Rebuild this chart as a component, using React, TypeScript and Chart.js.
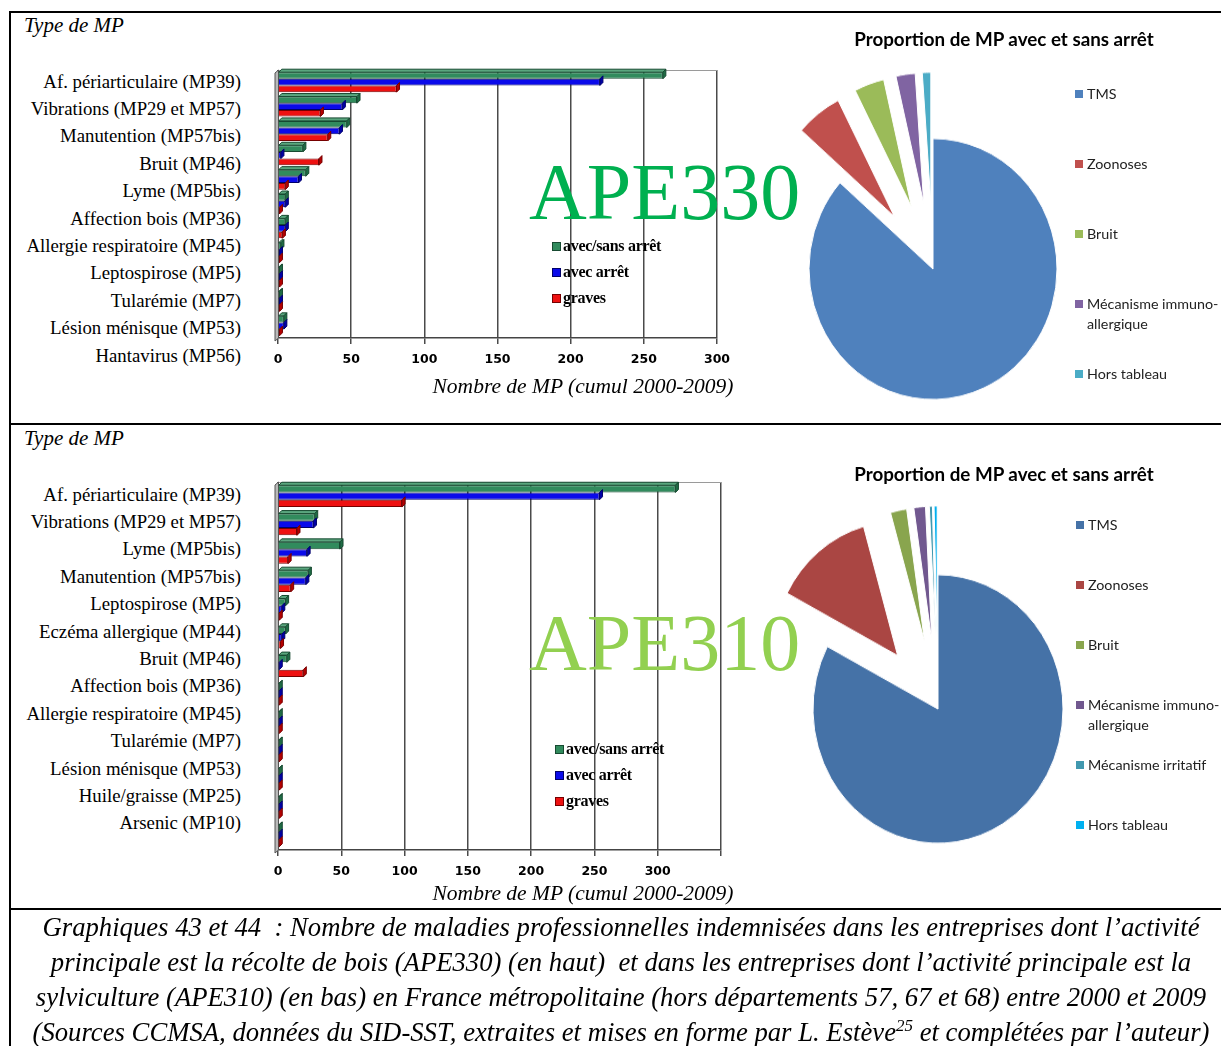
import React, { useEffect, useRef } from 'react';
import { Chart, registerables } from 'chart.js';

Chart.register(...registerables);

// ---------------- data ----------------
const seriesNames = ['avec/sans arrêt', 'avec arrêt', 'graves'];

// APE330 (récolte de bois)
const categories330 = [
  'Af. périarticulaire (MP39)',
  'Vibrations (MP29 et MP57)',
  'Manutention (MP57bis)',
  'Bruit (MP46)',
  'Lyme (MP5bis)',
  'Affection bois (MP36)',
  'Allergie respiratoire (MP45)',
  'Leptospirose (MP5)',
  'Tularémie (MP7)',
  'Lésion ménisque (MP53)',
  'Hantavirus (MP56)',
];
const withOrWithout330 = [263, 54, 47, 17, 19, 5, 5, 2, 1, 1, 4];
const withStop330 = [220, 44, 42, 2, 14, 5, 5, 1, 1, 1, 4];
const severe330 = [81, 29, 34, 28, 5, 1, 3, 1, 1, 1, 1];
const xTicks330 = [0, 50, 100, 150, 200, 250, 300];
const xTickLabels330 = ['0', '50', '100', '150', '200', '250', '300'];

// APE310 (sylviculture)
const categories310 = [
  'Af. périarticulaire (MP39)',
  'Vibrations (MP29 et MP57)',
  'Lyme (MP5bis)',
  'Manutention (MP57bis)',
  'Leptospirose (MP5)',
  'Eczéma allergique (MP44)',
  'Bruit (MP46)',
  'Affection bois (MP36)',
  'Allergie respiratoire (MP45)',
  'Tularémie (MP7)',
  'Lésion ménisque (MP53)',
  'Huile/graisse (MP25)',
  'Arsenic (MP10)',
];
const withOrWithout310 = [314, 29, 49, 24, 6, 6, 7, 1, 1, 1, 1, 1, 1];
const withStop310 = [254, 28, 23, 22, 3, 3, 1, 1, 1, 1, 1, 1, 1];
const severe310 = [98, 15, 8, 10, 1, 2, 20, 1, 1, 1, 1, 1, 1];
const xTicks310 = [0, 50, 100, 150, 200, 250, 300, 350];
const xTickLabels310 = ['0', '50', '100', '150', '200', '250', '300', ''];

// Pies (proportion de MP avec et sans arrêt, %)
const pieLabels330 = ['TMS', 'Zoonoses', 'Bruit', 'Mécanisme immuno-allergique', 'Hors tableau'];
const pieValues330 = [86.5, 6.0, 3.9, 2.5, 1.1];
const pieLabels310 = ['TMS', 'Zoonoses', 'Bruit', 'Mécanisme immuno-allergique', 'Mécanisme irritatif', 'Hors tableau'];
const pieValues310 = [82.7, 12.9, 2.1, 1.5, 0.4, 0.4];

// ---------------- styles ----------------
const SERIF = '"Liberation Serif", "Times New Roman", serif';
const SANS = 'Lato, "Noto Sans", sans-serif';
const barFill = ['#318b5d', '#0a0aea', '#ee1111'];
const barEdge = ['#174a31', '#00006a', '#760000'];
const barCap = ['#1f6c45', '#0000a6', '#b40000'];
const barTop = ['#5aa67e', '#4a4aff', '#ff5a5a'];
const pieColors330 = ['#4f81bd', '#c0504d', '#9bbb59', '#8064a2', '#4bacc6'];
const pieColors310 = ['#4572a7', '#aa4643', '#89a54e', '#71588f', '#4198af', '#00b0f0'];
const explode330 = [0, 63, 63, 63, 63];
const explode310 = [0, 64, 64, 64, 64, 64];

// ---------------- plugins ----------------
const bar3d = {
  id: 'bar3d',
  beforeDatasetsDraw(chart: any) {
    const { ctx, chartArea: a } = chart;
    ctx.save();
    ctx.strokeStyle = '#9a9a9a';
    ctx.lineWidth = 1;
    ctx.beginPath();
    ctx.moveTo(a.left, a.top + 0.5);
    ctx.lineTo(a.right, a.top + 0.5);
    ctx.stroke();
    ctx.fillStyle = '#b9b9b9';
    ctx.strokeStyle = '#555';
    ctx.beginPath();
    ctx.moveTo(a.left - 3, a.top + 3);
    ctx.lineTo(a.left + 0.5, a.top);
    ctx.lineTo(a.left + 0.5, a.bottom);
    ctx.lineTo(a.left - 3, a.bottom + 3);
    ctx.closePath();
    ctx.fill();
    ctx.stroke();
    ctx.restore();
  },
  afterDatasetsDraw(chart: any) {
    const { ctx } = chart;
    const d = 3;
    ctx.save();
    ctx.lineWidth = 1;
    chart.data.datasets.forEach((_ds: any, di: number) => {
      const meta = chart.getDatasetMeta(di);
      meta.data.forEach((el: any) => {
        const { x, y, base, height } = el;
        const t = y - height / 2;
        const b = y + height / 2;
        ctx.strokeStyle = barEdge[di];
        if (di === 0) {
          ctx.fillStyle = barTop[di];
          ctx.beginPath();
          ctx.moveTo(base, t);
          ctx.lineTo(base + d, t - d);
          ctx.lineTo(x + d, t - d);
          ctx.lineTo(x, t);
          ctx.closePath();
          ctx.fill();
          ctx.stroke();
        }
        ctx.fillStyle = barCap[di];
        ctx.beginPath();
        ctx.moveTo(x, t);
        ctx.lineTo(x + d, t - d);
        ctx.lineTo(x + d, b - d);
        ctx.lineTo(x, b);
        ctx.closePath();
        ctx.fill();
        ctx.stroke();
      });
    });
    ctx.restore();
  },
};

const makeExplode = (dist: number[]) => ({
  id: 'explode',
  afterDatasetsUpdate(chart: any) {
    chart.getDatasetMeta(0).data.forEach((el: any, i: number) => {
      const e = dist[i] || 0;
      if (!e) return;
      const mid = (el.startAngle + el.endAngle) / 2;
      el.x += Math.cos(mid) * e;
      el.y += Math.sin(mid) * e;
    });
  },
});

// ---------------- components ----------------
type BarProps = {
  categories: string[];
  series: number[][];
  max: number;
  ticks: number[];
  tickLabels: string[];
  left: number;
  top: number;
  width: number;
  height: number;
  pad: { left: number; right: number; top: number; bottom: number };
  catPct: number;
};

function BarChart(p: BarProps) {
  const ref = useRef<HTMLCanvasElement>(null);
  useEffect(() => {
    const chart = new Chart(ref.current as HTMLCanvasElement, {
      type: 'bar',
      data: {
        labels: p.categories,
        datasets: p.series.map((d, i) => ({
          label: seriesNames[i],
          data: d,
          backgroundColor: barFill[i],
          borderColor: barEdge[i],
          borderWidth: 1,
          categoryPercentage: p.catPct,
          barPercentage: 1,
        })),
      },
      options: {
        indexAxis: 'y',
        responsive: false,
        animation: false,
        events: [],
        layout: { padding: p.pad },
        plugins: { legend: { display: false }, tooltip: { enabled: false } },
        scales: {
          x: {
            min: 0,
            max: p.max,
            afterBuildTicks: (s: any) => {
              s.ticks = p.ticks.map((v) => ({ value: v }));
            },
            ticks: {
              autoSkip: false,
              maxRotation: 0,
              padding: 8,
              color: '#000',
              font: { family: '"DejaVu Sans", "Liberation Sans", sans-serif', weight: 'bold', size: 12.5 },
              callback: (v: any) => {
                const k = p.ticks.indexOf(Number(v));
                return k >= 0 ? p.tickLabels[k] : '';
              },
            },
            grid: { color: '#4a4a4a', lineWidth: 1.5, tickLength: 6, tickColor: '#4a4a4a' },
            border: { color: '#444', width: 1.5 },
          },
          y: { display: false },
        },
      } as any,
      plugins: [bar3d],
    });
    return () => chart.destroy();
  }, []);
  return (
    <canvas
      ref={ref}
      width={p.width}
      height={p.height}
      style={{ position: 'absolute', left: p.left, top: p.top, width: p.width, height: p.height }}
    />
  );
}

type PieProps = {
  labels: string[];
  values: number[];
  colors: string[];
  explode: number[];
  cx: number;
  cy: number;
  r: number;
  stretchY: number;
};

function PieChart(p: PieProps) {
  const ref = useRef<HTMLCanvasElement>(null);
  const size = 2 * (p.r + 85);
  useEffect(() => {
    const chart = new Chart(ref.current as HTMLCanvasElement, {
      type: 'pie',
      data: {
        labels: p.labels,
        datasets: [
          {
            data: p.values,
            backgroundColor: p.colors,
            borderColor: '#ffffff',
            borderWidth: 1,
          },
        ],
      },
      options: {
        responsive: false,
        animation: false,
        events: [],
        radius: p.r,
        layout: { padding: 0 },
        plugins: { legend: { display: false }, tooltip: { enabled: false } },
      } as any,
      plugins: [makeExplode(p.explode)],
    });
    return () => chart.destroy();
  }, []);
  return (
    <div
      style={{
        position: 'absolute',
        left: p.cx - size / 2,
        top: p.cy - size / 2,
        width: size,
        height: size,
        transform: `scaleY(${p.stretchY})`,
        transformOrigin: '50% 50%',
      }}
    >
      <canvas ref={ref} width={size} height={size} style={{ display: 'block', width: size, height: size }} />
    </div>
  );
}

function CategoryLabels({ items, top, step }: { items: string[]; top: number; step: number }) {
  return (
    <div
      style={{
        position: 'absolute',
        left: 0,
        top,
        width: 241,
        textAlign: 'right',
        fontFamily: SERIF,
        fontSize: 18.8,
        lineHeight: `${step}px`,
        whiteSpace: 'nowrap',
        color: '#000',
        zIndex: 3,
      }}
    >
      {items.map((c) => (
        <div key={c}>{c}</div>
      ))}
    </div>
  );
}

function BarLegend({ left, top }: { left: number; top: number }) {
  return (
    <div style={{ position: 'absolute', left, top, zIndex: 4 }}>
      {seriesNames.map((n, i) => (
        <div key={n} style={{ display: 'flex', alignItems: 'center', height: 26 }}>
          <span
            style={{
              display: 'inline-block',
              width: 7,
              height: 7,
              background: barFill[i],
              border: `1px solid ${barEdge[i]}`,
              marginRight: 2,
            }}
          />
          <span
            style={{
              fontFamily: SERIF,
              fontWeight: 'bold',
              fontSize: 16,
              letterSpacing: -0.3,
              color: '#000',
              whiteSpace: 'nowrap',
            }}
          >
            {n}
          </span>
        </div>
      ))}
    </div>
  );
}

function PieLegend({ labels, colors, left, top, step }: { labels: string[]; colors: string[]; left: number; top: number; step: number }) {
  return (
    <div style={{ position: 'absolute', left, top, zIndex: 4 }}>
      {labels.map((n, i) => (
        <div key={n} style={{ position: 'absolute', left: 0, top: i * step, width: 150 }}>
          <span
            style={{
              position: 'absolute',
              left: 0,
              top: 6,
              width: 8,
              height: 8,
              background: colors[i],
            }}
          />
          <div
            style={{
              position: 'absolute',
              left: 12,
              top: 0,
              width: 140,
              fontFamily: SANS,
              fontSize: 14.3,
              lineHeight: '20px',
              color: '#222',
            }}
          >
            {n}
          </div>
        </div>
      ))}
    </div>
  );
}

const italicSerif = (size: number): React.CSSProperties => ({
  fontFamily: SERIF,
  fontStyle: 'italic',
  fontSize: size,
  color: '#000',
  whiteSpace: 'nowrap',
});

const pieTitleStyle: React.CSSProperties = {
  position: 'absolute',
  left: 804,
  width: 400,
  textAlign: 'center',
  fontFamily: SANS,
  fontWeight: 'bold',
  fontSize: 18.8,
  lineHeight: '24px',
  color: '#000',
  zIndex: 4,
  whiteSpace: 'nowrap',
};

const bigTextStyle = (color: string, top: number): React.CSSProperties => ({
  position: 'absolute',
  left: 529,
  top,
  fontFamily: SERIF,
  fontSize: 80,
  lineHeight: '80px',
  color,
  zIndex: 5,
  whiteSpace: 'nowrap',
});

export default function App() {
  return (
    <div
      style={{
        position: 'absolute',
        left: 0,
        top: 0,
        width: 1221,
        height: 1046,
        overflow: 'hidden',
        background: '#fff',
      }}
    >
      {/* table borders */}
      <div style={{ position: 'absolute', left: 9, top: 11, width: 2, height: 1040, background: '#000' }} />
      <div style={{ position: 'absolute', left: 9, top: 11, width: 1212, height: 2, background: '#000' }} />
      <div style={{ position: 'absolute', left: 9, top: 423, width: 1212, height: 2, background: '#000' }} />
      <div style={{ position: 'absolute', left: 9, top: 908, width: 1212, height: 2, background: '#000' }} />

      {/* ---------- APE330 ---------- */}
      <div style={{ position: 'absolute', left: 24, top: 12, lineHeight: '26px', ...italicSerif(21) }}>Type de MP</div>
      <CategoryLabels items={categories330} top={67.5} step={27.4} />
      <BarChart
        categories={categories330}
        series={[withOrWithout330, withStop330, severe330]}
        max={300}
        ticks={xTicks330}
        tickLabels={xTickLabels330}
        left={262}
        top={58}
        width={480}
        height={327}
        pad={{ left: 16, right: 25, top: 12, bottom: 10 }}
        catPct={0.82}
      />
      <div style={{ position: 'absolute', left: 383, width: 400, top: 373, textAlign: 'center', lineHeight: '26px', ...italicSerif(21.5) }}>
        Nombre de MP (cumul 2000-2009)
      </div>
      <BarLegend left={552} top={233} />
      <div style={bigTextStyle('#00b050', 152)}>APE330</div>
      <PieChart
        labels={pieLabels330}
        values={pieValues330}
        colors={pieColors330}
        explode={explode330}
        cx={933}
        cy={269}
        r={124}
        stretchY={1.052}
      />
      <div style={{ ...pieTitleStyle, top: 27 }}>Proportion de MP avec et sans arrêt</div>
      <PieLegend labels={pieLabels330} colors={pieColors330} left={1075} top={84} step={70} />

      {/* ---------- APE310 ---------- */}
      <div style={{ position: 'absolute', left: 24, top: 425, lineHeight: '26px', ...italicSerif(21) }}>Type de MP</div>
      <CategoryLabels items={categories310} top={480.5} step={27.4} />
      <BarChart
        categories={categories310}
        series={[withOrWithout310, withStop310, severe310]}
        max={350}
        ticks={xTicks310}
        tickLabels={xTickLabels310}
        left={262}
        top={470}
        width={484}
        height={427}
        pad={{ left: 16, right: 25, top: 12, bottom: 10 }}
        catPct={0.77}
      />
      <div style={{ position: 'absolute', left: 383, width: 400, top: 880, textAlign: 'center', lineHeight: '26px', ...italicSerif(21.5) }}>
        Nombre de MP (cumul 2000-2009)
      </div>
      <BarLegend left={555} top={736} />
      <div style={bigTextStyle('#92d050', 603)}>APE310</div>
      <PieChart
        labels={pieLabels310}
        values={pieValues310}
        colors={pieColors310}
        explode={explode310}
        cx={938}
        cy={709}
        r={125}
        stretchY={1.074}
      />
      <div style={{ ...pieTitleStyle, top: 462 }}>Proportion de MP avec et sans arrêt</div>
      <PieLegend labels={pieLabels310} colors={pieColors310} left={1076} top={515} step={60} />

      {/* ---------- caption ---------- */}
      <div
        style={{
          position: 'absolute',
          left: 12,
          width: 1218,
          top: 910,
          textAlign: 'center',
          lineHeight: '35px',
          fontFamily: SERIF,
          fontStyle: 'italic',
          fontSize: 26.7,
          color: '#000',
          whiteSpace: 'pre',
        }}
      >
        {'Graphiques 43 et 44  : Nombre de maladies professionnelles indemnisées dans les entreprises dont l’activité\n'}
        {'principale est la récolte de bois (APE330) (en haut)  et dans les entreprises dont l’activité principale est la\n'}
        {'sylviculture (APE310) (en bas) en France métropolitaine (hors départements 57, 67 et 68) entre 2000 et 2009\n'}
        {'(Sources CCMSA, données du SID-SST, extraites et mises en forme par L. Estève'}
        <sup style={{ fontSize: 17, lineHeight: 0 }}>25</sup>
        {' et complétées par l’auteur)'}
      </div>
    </div>
  );
}
